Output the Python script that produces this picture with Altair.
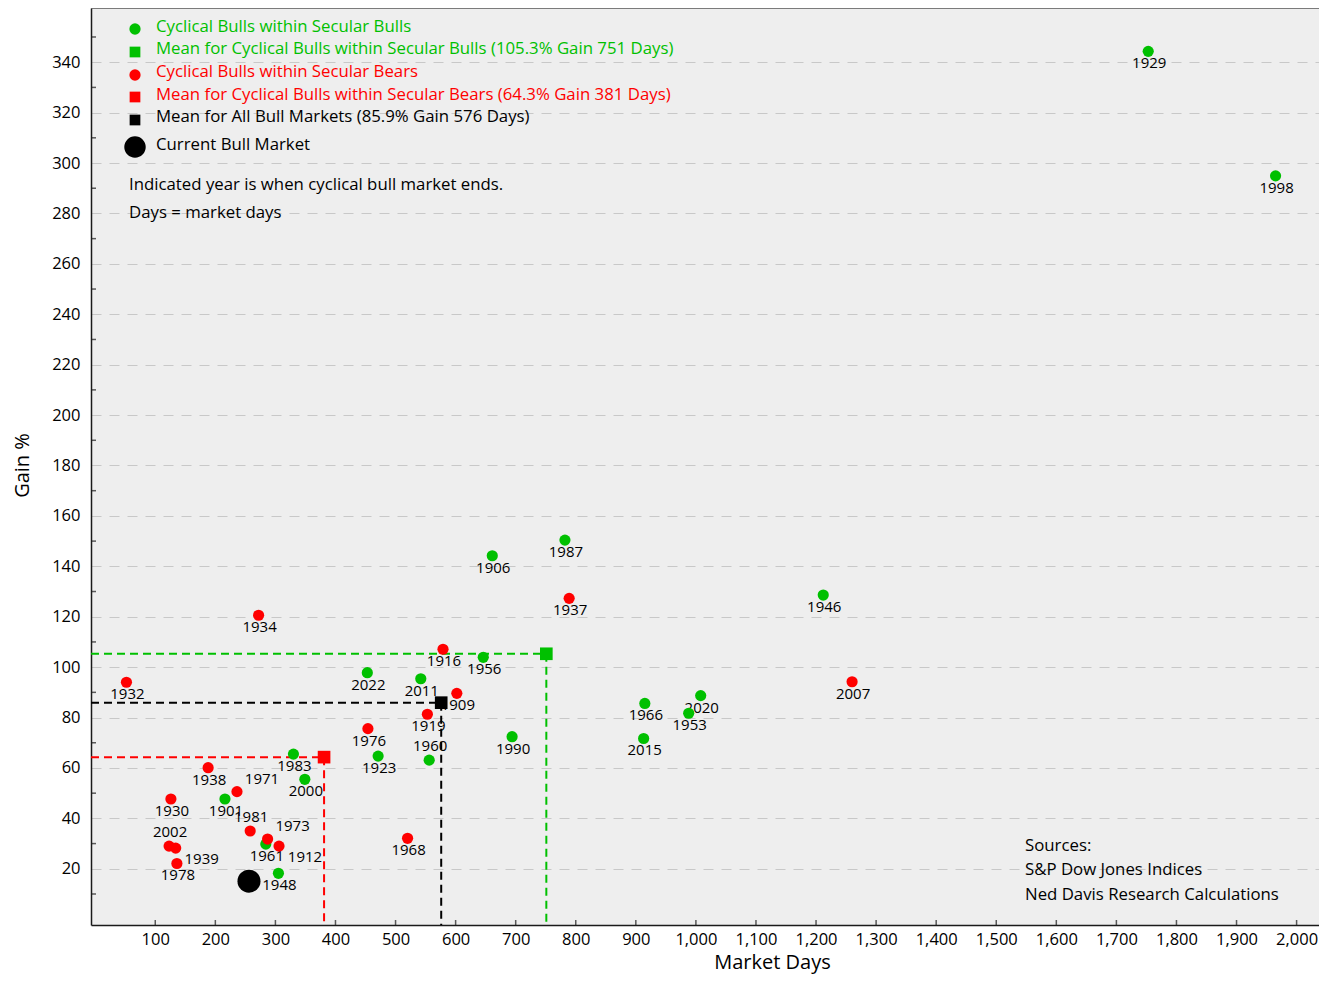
import altair as alt
import pandas as pd

# ---------------- data ----------------
bull_years = ["1929", "1998", "1987", "1906", "1946", "1956", "2022", "2011", "1966", "2020",
              "1953", "2015", "1990", "1923", "1960", "1983", "2000", "1901", "1961", "1948"]
bull_days = [1753, 1965, 782, 661, 1212, 646, 453, 542, 915, 1008,
             988, 913, 694, 471, 556, 330, 349, 216, 284, 305]
bull_gain = [344.3, 294.9, 150.4, 144.2, 128.6, 103.9, 97.8, 95.4, 85.6, 88.7,
             81.7, 71.7, 72.4, 64.7, 63.1, 65.5, 55.5, 47.7, 29.8, 18.2]

bear_years = ["1932", "1934", "1916", "1937", "1909", "1919", "1976", "2007", "1938",
              "1971", "1930", "1981", "1973", "1912", "2002", "1939", "1978", "1968"]
bear_days = [52, 272, 579, 789, 602, 553, 454, 1260, 188,
             236, 126, 258, 287, 306, 123, 134, 136, 520]
bear_gain = [94.0, 120.6, 107.1, 127.3, 89.6, 81.3, 75.6, 94.2, 60.1,
             50.6, 47.7, 35.0, 31.8, 29.0, 29.0, 28.2, 22.1, 32.1]

mean_series = ["bull", "bear", "all"]
mean_days = [751, 381, 576]
mean_gain = [105.3, 64.3, 85.9]

current_days = [256]
current_gain = [15.1]

legend_labels = [
    "Cyclical Bulls within Secular Bulls",
    "Mean for Cyclical Bulls within Secular Bulls (105.3% Gain 751 Days)",
    "Cyclical Bulls within Secular Bears",
    "Mean for Cyclical Bulls within Secular Bears (64.3% Gain 381 Days)",
    "Mean for All Bull Markets (85.9% Gain 576 Days)",
    "Current Bull Market",
]
note_lines = ["Indicated year is when cyclical bull market ends.", "Days = market days"]
source_lines = ["Sources:", "S&P Dow Jones Indices", "Ned Davis Research Calculations"]

x_tick_values = list(range(100, 2001, 100))
y_label_values = list(range(20, 341, 20))
y_minor_values = list(range(10, 351, 20))

# ---------------- style ----------------
FONT = "Open Sans"
GREEN = "#00C000"
RED = "#FF0000"
W, H = 1228, 917
X_MIN, X_MAX = -7, 2037.3
Y_MIN, Y_MAX = -2.3, 361.5
TXT = 16.8

LABEL_ABOVE = ["1960", "1981", "2002"]
LABEL_UPRIGHT = ["1971", "1973"]
LABEL_RIGHT = ["1912", "1939"]

pts = pd.concat([
    pd.DataFrame({"year": bull_years, "days": bull_days, "gain": bull_gain, "series": "bull"}),
    pd.DataFrame({"year": bear_years, "days": bear_days, "gain": bear_gain, "series": "bear"}),
], ignore_index=True)
means = pd.DataFrame({"series": mean_series, "days": mean_days, "gain": mean_gain})
current = pd.DataFrame({"days": current_days, "gain": current_gain})
xticks = pd.DataFrame({"days": x_tick_values})
yticks = pd.DataFrame({"gain": y_minor_values})

xscale = alt.Scale(domain=[X_MIN, X_MAX], nice=False, zero=False)
yscale = alt.Scale(domain=[Y_MIN, Y_MAX], nice=False, zero=False)
cscale = alt.Scale(domain=["bull", "bear", "all"], range=[GREEN, RED, "black"])

xaxis = alt.Axis(values=x_tick_values, format=",d", grid=False, ticks=False,
                 domainColor="#1a1a1a", domainWidth=1.5, labelFont=FONT, labelFontSize=16.5,
                 labelColor="black", labelPadding=6, labelFlush=False,
                 title="Market Days", titleFont=FONT, titleFontSize=20, titleFontWeight="normal",
                 titleColor="black", titleX=681, titleY=43, titleBaseline="alphabetic",
                 titleAlign="center")
yaxis = alt.Axis(values=y_label_values, grid=True, gridDash=[10, 8], gridColor="#C8C8C8",
                 gridWidth=1, ticks=False, domainColor="#1a1a1a", domainWidth=1.5,
                 labelFont=FONT, labelFontSize=16.5, labelColor="black", labelPadding=11,
                 labelFlush=False,
                 title="Gain %", titleFont=FONT, titleFontSize=20, titleFontWeight="normal",
                 titleColor="black", titleX=-69, titleY=457, titleAngle=270,
                 titleBaseline="middle", titleAlign="center")

X = alt.X("days:Q", scale=xscale, axis=xaxis)
Y = alt.Y("gain:Q", scale=yscale, axis=yaxis)
C = alt.Color("series:N", scale=cscale, legend=None)

base = alt.Chart(pts).encode(x=X, y=Y)

# year labels
all_special = LABEL_ABOVE + LABEL_UPRIGHT + LABEL_RIGHT
def label_layer(years, dx, dy):
    return base.transform_filter(alt.FieldOneOfPredicate(field="year", oneOf=years)).mark_text(
        font=FONT, fontSize=15, color="black", align="center", baseline="middle", dx=dx, dy=dy
    ).encode(text="year:N")

lab_default = label_layer([y for y in bull_years + bear_years if y not in all_special], 1, 12)
lab_above = label_layer(LABEL_ABOVE, 1, -14)
lab_upright = label_layer(LABEL_UPRIGHT, 25, -13)
lab_right = label_layer(LABEL_RIGHT, 26, 11)

# mean reference lines (from the axes to each mean)
mean_base = alt.Chart(means).transform_calculate(x0=str(X_MIN), y0=str(Y_MIN))
hlines = mean_base.mark_rule(strokeDash=[8, 5], strokeWidth=2).encode(
    x=alt.X("x0:Q"), x2=alt.X2("days:Q"), y=alt.Y("gain:Q"), color=C)
vlines = mean_base.mark_rule(strokeDash=[8, 5], strokeWidth=2).encode(
    x=alt.X("days:Q"), y=alt.Y("gain:Q"), y2=alt.Y2("y0:Q"), color=C)

points = base.mark_circle(size=125, opacity=1).encode(color=C)
mean_pts = alt.Chart(means).mark_square(size=160, opacity=1).encode(
    x=alt.X("days:Q"), y=alt.Y("gain:Q"), color=C)
cur_pt = alt.Chart(current).mark_circle(size=530, opacity=1, color="black").encode(
    x=alt.X("days:Q"), y=alt.Y("gain:Q"))

xtick_marks = alt.Chart(xticks).mark_tick(orient="vertical", size=5, thickness=1.5,
                                          color="#1a1a1a").encode(
    x=alt.X("days:Q"), y=alt.value(H - 2.5))
ytick_marks = alt.Chart(yticks).mark_tick(orient="horizontal", size=5, thickness=1.5,
                                          color="#1a1a1a").encode(
    y=alt.Y("gain:Q"), x=alt.value(2.5))

top_border = alt.Chart(pd.DataFrame({"a": [0]})).mark_rule(color="#555555", strokeWidth=1.5).encode(
    x=alt.value(0), x2=alt.value(W), y=alt.value(0))

# legend (drawn inside the plot)
legend_style = [
    # (symbol shape, symbol size, color, symbol y, text y)
    ("circle", 127, GREEN, 21, 19),
    ("square", 115, GREEN, 44, 41),
    ("circle", 127, RED, 67, 64),
    ("square", 115, RED, 89, 87),
    ("square", 115, "black", 112, 109),
    ("circle", 460, "black", 139, 137),
]
legend_layers = []
for lab, (shape, size, col, sy, ty) in zip(legend_labels, legend_style):
    d = pd.DataFrame({"t": [lab]})
    legend_layers.append(alt.Chart(d).mark_point(shape=shape, size=size, filled=True, opacity=1,
                                                 color=col).encode(x=alt.value(44), y=alt.value(sy)))
    legend_layers.append(alt.Chart(d).mark_text(font=FONT, fontSize=TXT, color=col, align="left",
                                                baseline="middle").encode(
        text="t:N", x=alt.value(65), y=alt.value(ty)))

note_layers = []
for line, ty in zip(note_lines, [177, 205]):
    note_layers.append(alt.Chart(pd.DataFrame({"t": [line]})).mark_text(
        font=FONT, fontSize=TXT, color="black", align="left", baseline="middle").encode(
        text="t:N", x=alt.value(38), y=alt.value(ty)))
for line, ty in zip(source_lines, [838, 862, 887]):
    note_layers.append(alt.Chart(pd.DataFrame({"t": [line]})).mark_text(
        font=FONT, fontSize=TXT, color="black", align="left", baseline="middle").encode(
        text="t:N", x=alt.value(934), y=alt.value(ty)))

chart = alt.layer(
    lab_default, lab_above, lab_upright, lab_right,
    hlines, vlines, points, mean_pts, cur_pt,
    xtick_marks, ytick_marks, top_border,
    *legend_layers, *note_layers,
).properties(
    width=W, height=H,
    autosize=alt.AutoSizeParams(type="none"),
    padding={"left": 83, "top": 0, "right": 0, "bottom": 49},
).configure(font=FONT).configure_view(fill="#EEEEEE", stroke=None)

chart.save("out.html", embed_options={"renderer": "svg", "actions": False})
